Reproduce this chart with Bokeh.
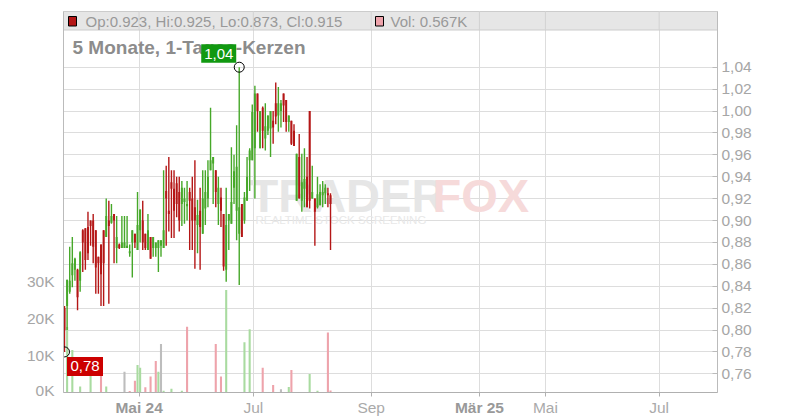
import numpy as np
from bokeh.plotting import figure
from bokeh.layouts import column
from bokeh.models import Range1d, LinearAxis, FixedTicker
from bokeh.core.properties import value
from bokeh.embed import file_html
from bokeh.resources import INLINE

# ---------------- data ----------------
opens = [0.820, 0.822, 0.835, 0.850, 0.855, 0.855, 0.845, 0.891, 0.893, 0.894,
         0.900, 0.900, 0.891, 0.867, 0.878, 0.891, 0.885, 0.900, 0.898, 0.906,
         0.875, 0.878, 0.875, 0.875, 0.875, 0.870, 0.880, 0.888, 0.873, 0.891,
         0.900, 0.888, 0.873, 0.885, 0.875, 0.875, 0.875, 0.877, 0.875, 0.927,
         0.909, 0.935, 0.929, 0.934, 0.926, 0.915, 0.917, 0.913, 0.926, 0.920,
         0.912, 0.896, 0.909, 0.888, 0.911, 0.920, 0.946, 0.952, 0.946, 0.915,
         0.921, 0.906, 0.855, 0.900, 0.897, 0.930, 0.909, 0.888, 0.915, 0.900,
         0.918, 0.955, 0.955, 0.966, 1.016, 0.966, 1.003, 0.975, 0.982, 0.984,
         0.991, 1.007, 0.996, 1.000, 1.016, 1.010, 0.990, 0.991, 0.982, 0.918,
         0.958, 0.918, 0.929, 0.940, 1.000, 0.920, 0.920, 0.912, 0.914, 0.923,
         0.925, 0.925, 0.923]
highs = [0.822, 0.846, 0.876, 0.885, 0.866, 0.856, 0.872, 0.892, 0.893, 0.908,
         0.900, 0.906, 0.891, 0.867, 0.878, 0.891, 0.920, 0.918, 0.915, 0.906,
         0.904, 0.879, 0.904, 0.904, 0.904, 0.878, 0.891, 0.888, 0.926, 0.910,
         0.918, 0.888, 0.906, 0.885, 0.885, 0.880, 0.882, 0.882, 0.946, 0.950,
         0.958, 0.946, 0.946, 0.940, 0.940, 0.936, 0.930, 0.936, 0.930, 0.940,
         0.955, 0.919, 0.930, 0.946, 0.946, 0.955, 1.003, 0.958, 0.946, 0.940,
         0.930, 0.906, 0.930, 0.906, 0.967, 0.960, 0.987, 1.040, 0.915, 0.926,
         0.958, 0.966, 1.006, 1.023, 1.016, 1.000, 1.004, 1.007, 0.996, 1.000,
         1.000, 1.026, 1.022, 1.010, 1.016, 1.010, 0.996, 0.991, 0.988, 0.961,
         0.979, 0.961, 0.966, 0.958, 1.000, 0.950, 0.920, 0.940, 0.933, 0.936,
         0.933, 0.930, 0.925]
lows = [0.780, 0.800, 0.833, 0.839, 0.845, 0.818, 0.835, 0.853, 0.855, 0.864,
        0.877, 0.861, 0.833, 0.833, 0.822, 0.822, 0.885, 0.824, 0.897, 0.861,
        0.861, 0.874, 0.875, 0.875, 0.875, 0.867, 0.848, 0.875, 0.873, 0.880,
        0.873, 0.873, 0.873, 0.865, 0.867, 0.867, 0.853, 0.867, 0.875, 0.877,
        0.890, 0.884, 0.884, 0.903, 0.890, 0.895, 0.897, 0.900, 0.873, 0.873,
        0.856, 0.870, 0.855, 0.888, 0.896, 0.912, 0.946, 0.915, 0.912, 0.896,
        0.894, 0.854, 0.844, 0.873, 0.897, 0.915, 0.882, 0.841, 0.885, 0.897,
        0.918, 0.927, 0.955, 0.920, 0.981, 0.966, 0.966, 0.964, 0.978, 0.958,
        0.970, 0.988, 0.981, 0.985, 0.990, 0.981, 0.981, 0.969, 0.968, 0.918,
        0.920, 0.908, 0.912, 0.912, 0.911, 0.920, 0.877, 0.911, 0.914, 0.912,
        0.915, 0.912, 0.873]
closes = [0.800, 0.846, 0.845, 0.861, 0.865, 0.830, 0.871, 0.880, 0.864, 0.870,
          0.895, 0.876, 0.857, 0.861, 0.851, 0.861, 0.904, 0.895, 0.904, 0.900,
          0.885, 0.875, 0.880, 0.880, 0.877, 0.872, 0.891, 0.880, 0.896, 0.910,
          0.880, 0.875, 0.891, 0.865, 0.885, 0.880, 0.882, 0.882, 0.891, 0.920,
          0.906, 0.929, 0.909, 0.915, 0.900, 0.930, 0.920, 0.915, 0.918, 0.900,
          0.900, 0.905, 0.894, 0.920, 0.926, 0.940, 0.955, 0.958, 0.926, 0.930,
          0.909, 0.858, 0.896, 0.906, 0.917, 0.945, 0.949, 0.912, 0.885, 0.921,
          0.940, 0.964, 0.999, 1.016, 1.000, 1.000, 0.982, 0.986, 0.996, 1.000,
          0.985, 0.995, 1.007, 1.007, 1.005, 0.990, 0.996, 0.970, 0.968, 0.961,
          0.920, 0.935, 0.938, 0.912, 0.918, 0.926, 0.908, 0.924, 0.926, 0.926,
          0.930, 0.923, 0.915]
volumes = [0, 17700, 0, 11500, 0, 0, 1600, 0, 0, 0,
           5200, 0, 0, 0, 6800, 0, 1600, 0, 0, 0,
           0, 0, 0, 5600, 0, 400, 0, 3200, 7400, 6700,
           0, 1400, 0, 4300, 0, 8500, 5600, 13100, 500, 0,
           0, 1000, 0, 0, 0, 500, 0, 17800, 0, 0,
           0, 0, 0, 0, 0, 0, 0, 0, 13100, 0,
           4300, 0, 27700, 0, 0, 0, 0, 0, 0, 13600,
           0, 17100, 0, 0, 0, 0, 6700, 0, 0, 0,
           2000, 0, 0, 900, 0, 0, 1500, 6100, 0, 0,
           0, 0, 0, 0, 5000, 0, 0, 500, 0, 0,
           0, 16200, 567]

price_ticks = [0.76, 0.78, 0.80, 0.82, 0.84, 0.86, 0.88, 0.90, 0.92, 0.94,
               0.96, 0.98, 1.00, 1.02, 1.04]
price_tick_labels = ["0,76", "0,78", "0,80", "0,82", "0,84", "0,86", "0,88", "0,90",
                     "0,92", "0,94", "0,96", "0,98", "1,00", "1,02", "1,04"]
vol_ticks = [0, 10000, 20000, 30000]
vol_tick_labels = ["0K", "10K", "20K", "30K"]
date_tick_pos = [28.6, 72.4, 117.6, 159.1, 184.4, 228.0]
date_tick_labels = ["Mai 24", "Jul", "Sep", "Mär 25", "Mai", "Jul"]
date_tick_bold = [True, False, False, True, False, False]

title_text = "5 Monate, 1-Tages-Kerzen"
ohlc_text = "Op:0.923, Hi:0.925, Lo:0.873, Cl:0.915"
vol_text = "Vol: 0.567K"

# ---------------- layout ----------------
FONT = "Liberation Sans"
W = 792
BL, BR, BT, BB = 63, 75, 11, 6
FW, FH = W - BL - BR, 381
H = BT + FH + BB              # main chart canvas
H2 = 20                       # strip below with the date labels
S = 2.608                      # px per candle
X_START = -1.0 / S
X_END = X_START + FW / S
UPP = 0.02 / 21.9              # price per px
Y_TOP = 1.04 + (66.7 - 11) * UPP
Y_BOT = Y_TOP - FH * UPP
V_TOP = FH / 37.0 * 10000

def px_x(px):   # canvas px -> x data
    return X_START + (px - BL) / S

def px_y(py):   # canvas px -> price data
    return Y_TOP - (py - BT) * UPP

o = np.array(opens); h = np.array(highs); l = np.array(lows); c = np.array(closes)
v = np.array(volumes, dtype=float)
n = len(o)
idx = np.arange(n)
xr = Range1d(X_START, X_END)

p = figure(width=W, height=H, output_backend="svg", toolbar_location=None,
           x_range=xr, y_range=Range1d(Y_BOT, Y_TOP),
           y_axis_location="right", min_border_left=BL, min_border_right=BR,
           min_border_top=BT, min_border_bottom=BB, background_fill_color="white",
           border_fill_color="white")
p.outline_line_color = "#cccccc"
p.extra_y_ranges = {"vol": Range1d(0, V_TOP)}

# grids
p.ygrid.grid_line_color = "#dddddd"
p.xgrid.grid_line_color = "#dddddd"

# price axis (right)
ya = p.yaxis[0]
ya.ticker = FixedTicker(ticks=price_ticks)
ya.major_label_overrides = dict(zip(price_ticks, price_tick_labels))
ya.axis_line_color = "#bbbbbb"
ya.major_tick_line_color = "#bbbbbb"
ya.major_tick_in = 5
ya.major_tick_out = 0
ya.minor_tick_line_color = None
ya.major_label_standoff = 4
ya.major_label_text_font = FONT
ya.major_label_text_font_size = "15.5px"
ya.major_label_text_color = "#a6a6a6"

# volume axis (left)
va = LinearAxis(y_range_name="vol", ticker=FixedTicker(ticks=vol_ticks))
va.major_label_overrides = dict(zip(vol_ticks, vol_tick_labels))
va.axis_line_color = "#bbbbbb"
va.major_tick_line_color = None
va.minor_tick_line_color = None
va.major_label_standoff = 3
va.major_label_text_font = FONT
va.major_label_text_font_size = "15.5px"
va.major_label_text_color = "#a6a6a6"
p.add_layout(va, "left")

# date axis (bottom): ticks only, labels are drawn in the strip below
xa = p.xaxis[0]
xa.ticker = FixedTicker(ticks=date_tick_pos)
xa.major_label_text_font_size = "1px"
xa.major_label_text_color = None
xa.major_label_standoff = 0
xa.axis_line_color = "#b0b0b0"
xa.major_tick_line_color = "#b0b0b0"
xa.major_tick_in = 0
xa.major_tick_out = 4
xa.minor_tick_line_color = None

# watermark
p.text(x=[px_x(249)], y=[px_y(195)], text=["TRADER"], text_font=value(FONT),
       text_font_size="47px", text_font_style="bold", text_color="#e6e6e6",
       text_baseline="middle", text_align="left")
p.text(x=[px_x(432)], y=[px_y(195)], text=["FOX"], text_font=value(FONT),
       text_font_size="47px", text_font_style="bold", text_color="#f6dada",
       text_baseline="middle", text_align="left")
p.text(x=[px_x(255)], y=[px_y(219)], text=["REALTIME STOCK SCREENING"],
       text_font=value(FONT), text_font_size="11.5px", text_color="#e8e8e8",
       text_baseline="middle", text_align="left")

# volume bars
prev = np.concatenate([[c[0]], c[:-1]])
vcol = np.where(c > prev, "#a9dba0", np.where(c < prev, "#eea3ab", "#bdbdbd"))
m = v > 0
p.vbar(x=idx[m], width=0.8, bottom=0, top=v[m], fill_color=vcol[m], line_color=None,
       y_range_name="vol")

# candles
ccol = np.where(c > o, "#46a829", np.where(c < o, "#b41616", "#999999"))
top = np.maximum(o, c); bot = np.minimum(o, c)
top = np.maximum(top, bot + 1.5 * UPP)
p.segment(x0=idx, y0=l, x1=idx, y1=h, line_color=ccol, line_width=1.4)
p.vbar(x=idx, width=0.75, top=top, bottom=bot, fill_color=ccol, line_color=None)

# header band
p.quad(left=[X_START], right=[X_END], top=[px_y(11.5)], bottom=[px_y(29.5)],
       fill_color="#e6e6e6", line_color=None)
p.segment(x0=[X_START], x1=[X_END], y0=[px_y(29.5)], y1=[px_y(29.5)],
          line_color="#cccccc", line_width=1)
p.segment(x0=date_tick_pos, x1=date_tick_pos, y0=[px_y(29.5)] * len(date_tick_pos),
          y1=[Y_TOP] * len(date_tick_pos), line_color="#d2d2d2", line_width=1)
p.quad(left=[px_x(68)], right=[px_x(76)], top=[px_y(16)], bottom=[px_y(25.5)],
       fill_color="#b41616", line_color="black", line_width=1)
p.quad(left=[px_x(375)], right=[px_x(383)], top=[px_y(16)], bottom=[px_y(25.5)],
       fill_color="#eea3ab", line_color="black", line_width=1)
p.text(x=[px_x(85)], y=[px_y(21.3)], text=[ohlc_text], text_font=value(FONT),
       text_font_size="15px", text_color="#999999", text_baseline="middle")
p.text(x=[px_x(390)], y=[px_y(21.3)], text=[vol_text], text_font=value(FONT),
       text_font_size="15px", text_color="#999999", text_baseline="middle")
p.text(x=[px_x(72)], y=[px_y(47.3)], text=[title_text], text_font=value(FONT),
       text_font_size="19px", text_font_style="bold", text_color="#8c8c8c",
       text_baseline="middle")

# high / low markers
hi_i = int(np.argmax(h)); lo_i = int(np.argmin(l))
dx = 1.0 / S; dy = UPP
p.scatter(x=[hi_i, lo_i], y=[h[hi_i], l[lo_i]], size=10, marker="circle",
          fill_color=None, line_color="black", line_width=1)
hr = hi_i - 3 * dx
p.quad(left=[hr - 35 * dx], right=[hr], bottom=[h[hi_i] + 4.5 * dy],
       top=[h[hi_i] + 23 * dy], fill_color="#119911", line_color=None)
p.text(x=[hr - 17.5 * dx], y=[h[hi_i] + 13.5 * dy], text=["1,04"], text_font=value(FONT),
       text_font_size="15px", text_color="white", text_align="center",
       text_baseline="middle")
ll = lo_i + 2.5 * dx
p.quad(left=[ll], right=[ll + 36 * dx], top=[l[lo_i] - 5 * dy],
       bottom=[l[lo_i] - 24 * dy], fill_color="#cc0000", line_color=None)
p.text(x=[ll + 18 * dx], y=[l[lo_i] - 14.5 * dy], text=["0,78"], text_font=value(FONT),
       text_font_size="15px", text_color="white", text_align="center",
       text_baseline="middle")

# ---------------- strip with the date labels ----------------
p2 = figure(width=W, height=H2, output_backend="svg", toolbar_location=None,
            x_range=xr, y_range=Range1d(0, H2), x_axis_location=None,
            y_axis_location=None, min_border_left=BL, min_border_right=BR,
            min_border_top=0, min_border_bottom=0, border_fill_color="white",
            background_fill_color="white")
p2.outline_line_color = None
p2.grid.visible = False
mid = H2 - (407.0 - H)
tp = np.array(date_tick_pos); tl = np.array(date_tick_labels); tb = np.array(date_tick_bold)
p2.text(x=tp[tb], y=[mid] * int(tb.sum()), text=tl[tb], text_font=value(FONT),
        text_font_size="15.5px", text_font_style="bold", text_color="#999999",
        text_align="center", text_baseline="middle")
p2.text(x=tp[~tb], y=[mid] * int((~tb).sum()), text=tl[~tb], text_font=value(FONT),
        text_font_size="15.5px", text_color="#aaaaaa",
        text_align="center", text_baseline="middle")

layout = column(p, p2, spacing=0)
open("out.html", "w").write(file_html(layout, INLINE))
